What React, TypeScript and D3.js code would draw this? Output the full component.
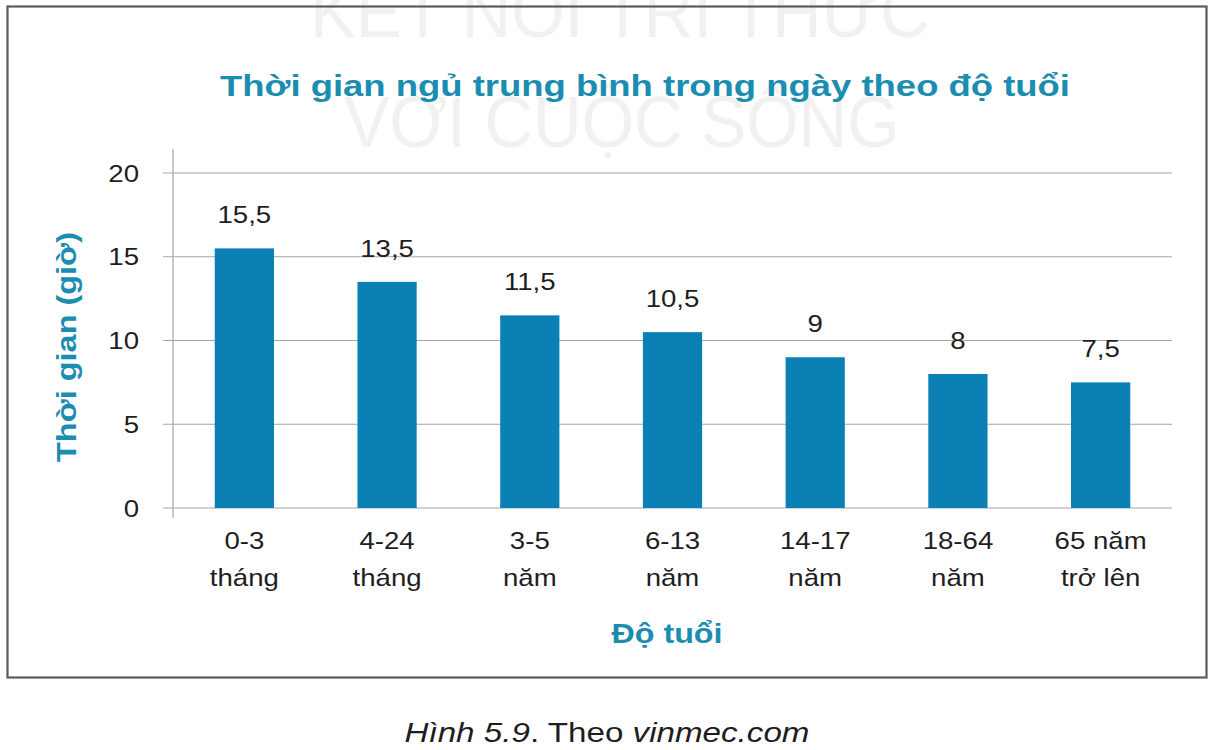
import * as d3 from "d3";

// Average daily sleep by age group (vinmec.com)
const categories = ["0-3 tháng", "4-24 tháng", "3-5 năm", "6-13 năm", "14-17 năm", "18-64 năm", "65 năm trở lên"];
const labelLines = [
  ["0-3", "tháng"],
  ["4-24", "tháng"],
  ["3-5", "năm"],
  ["6-13", "năm"],
  ["14-17", "năm"],
  ["18-64", "năm"],
  ["65 năm", "trở lên"],
];
const hours = [15.5, 13.5, 11.5, 10.5, 9, 8, 7.5];
const yTicks = [0, 5, 10, 15, 20];

const W = 1214;
const H = 750;
const P = { left: 173, right: 1172, top: 173, bottom: 508 };

const TEAL = "#1b8db1";
const BAR = "#0a80b4";
const INK = "#1e1e1e";
const FONT = "'Liberation Sans', Arial, Helvetica, sans-serif";
const SX = 1.15; // source text is slightly stretched horizontally

const fmt = (v: number) => String(v).replace(".", ",");

function Txt({ x, y, size, children, anchor = "middle", fill = INK }: any) {
  return (
    <text
      transform={`translate(${x},${y}) scale(${SX},1)`}
      textAnchor={anchor}
      fontSize={size}
      fontFamily={FONT}
      fill={fill}
    >
      {children}
    </text>
  );
}

export default function App() {
  const x = d3
    .scaleBand<string>()
    .domain(categories)
    .range([P.left, P.right])
    .paddingInner(0.585)
    .paddingOuter(0.2925);
  const y = d3.scaleLinear().domain([0, 20]).range([P.bottom, P.top]);

  return (
    <svg
      width={W}
      height={H}
      viewBox={`0 0 ${W} ${H}`}
      style={{ position: "absolute", left: 0, top: 0, background: "#fff" }}
    >
      {/* faint publisher watermark, tall condensed letters */}
      <g fill="#f1f1f1" fontFamily={FONT} textAnchor="middle">
        <text
          transform="translate(620,37) scale(1,1.45)"
          fontSize={50}
          textLength={620}
          lengthAdjust="spacingAndGlyphs"
        >
          KẾT NỐI TRI THỨC
        </text>
        <text
          transform="translate(622,147) scale(1,1.45)"
          fontSize={50}
          textLength={555}
          lengthAdjust="spacingAndGlyphs"
        >
          VỚI CUỘC SỐNG
        </text>
      </g>

      <rect x={7.5} y={6.5} width={1199} height={671} fill="none" stroke="#5a5a5a" strokeWidth={2.2} />

      <text
        x={645}
        y={96}
        textAnchor="middle"
        fontSize={30}
        fontWeight="bold"
        fontFamily={FONT}
        fill={TEAL}
        textLength={850}
        lengthAdjust="spacingAndGlyphs"
      >
        Thời gian ngủ trung bình trong ngày theo độ tuổi
      </text>

      {/* gridlines */}
      {yTicks.map((t) => (
        <line key={t} x1={P.left - 10} x2={P.right} y1={y(t)} y2={y(t)} stroke="#a6a6a6" strokeWidth={1.2} />
      ))}
      <line x1={P.left} x2={P.left} y1={P.top - 24} y2={P.bottom + 10} stroke="#a6a6a6" strokeWidth={1.2} />

      {yTicks.map((t) => (
        <Txt key={t} x={139} y={y(t) + 8.5} size={24} anchor="end">
          {t}
        </Txt>
      ))}

      {hours.map((v, i) => {
        const c = categories[i];
        const bx = x(c)!;
        return (
          <g key={c}>
            <rect x={bx} y={y(v)} width={x.bandwidth()} height={y(0) - y(v)} fill={BAR} />
            <Txt x={bx + x.bandwidth() / 2} y={y(v) - 25} size={24}>
              {fmt(v)}
            </Txt>
            <Txt x={bx + x.bandwidth() / 2} y={549} size={24}>
              {labelLines[i][0]}
            </Txt>
            <Txt x={bx + x.bandwidth() / 2} y={586} size={24}>
              {labelLines[i][1]}
            </Txt>
          </g>
        );
      })}

      <text
        transform="translate(76,347) rotate(-90)"
        textAnchor="middle"
        fontSize={28}
        fontWeight="bold"
        fontFamily={FONT}
        fill={TEAL}
        textLength={230}
        lengthAdjust="spacingAndGlyphs"
      >
        Thời gian (giờ)
      </text>

      <text
        x={667}
        y={643}
        textAnchor="middle"
        fontSize={28}
        fontWeight="bold"
        fontFamily={FONT}
        fill={TEAL}
        textLength={111}
        lengthAdjust="spacingAndGlyphs"
      >
        Độ tuổi
      </text>

      <text
        x={607}
        y={742}
        textAnchor="middle"
        fontSize={27}
        fontFamily={FONT}
        fill={INK}
        textLength={405}
        lengthAdjust="spacingAndGlyphs"
      >
        <tspan fontStyle="italic">Hình 5.9</tspan>
        <tspan>. Theo </tspan>
        <tspan fontStyle="italic">vinmec.com</tspan>
      </text>
    </svg>
  );
}
